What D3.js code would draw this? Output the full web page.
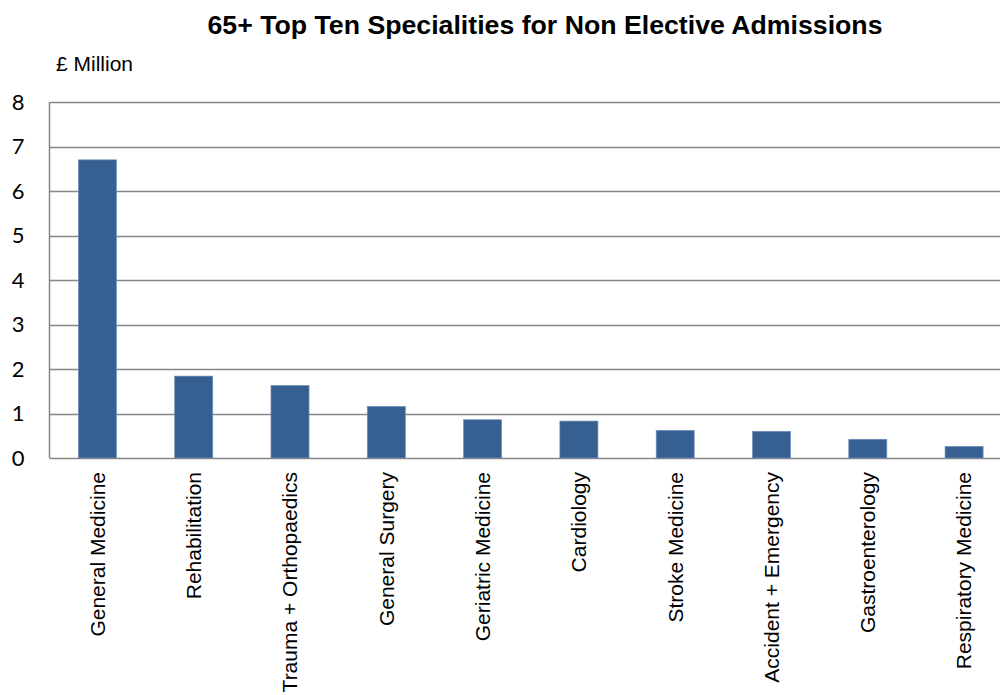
<!DOCTYPE html>
<html>
<head>
<meta charset="utf-8">
<script src="https://cdn.jsdelivr.net/npm/d3@7"></script>
<style>
  body { margin: 0; background: #fff; }
  svg { display: block; }
</style>
</head>
<body>
<svg id="chart" width="1000" height="695"></svg>
<script>
// Chart data
var categories = ["General Medicine", "Rehabilitation", "Trauma + Orthopaedics", "General Surgery",
    "Geriatric Medicine", "Cardiology", "Stroke Medicine", "Accident + Emergency",
    "Gastroenterology", "Respiratory Medicine"];
var values = [6.7, 1.84, 1.63, 1.16, 0.86, 0.83, 0.62, 0.6, 0.42, 0.26];
var yTicks = [0, 1, 2, 3, 4, 5, 6, 7, 8];
var title = "65+ Top Ten Specialities for Non Elective Admissions";
var unitLabel = "£ Million";

var svg = d3.select("#chart");

// Plot area (right side runs past the window edge, like the original)
var plotLeft = 49.5, plotTop = 102, plotBottom = 458, plotRight = 1012;

var x = d3.scaleBand()
    .domain(categories)
    .range([plotLeft, plotRight])
    .paddingInner(0.605)
    .paddingOuter(0.3);

var y = d3.scaleLinear()
    .domain([0, 8])
    .range([plotBottom, plotTop]);

// Gridlines
svg.append("g")
    .selectAll("line")
    .data(yTicks)
    .join("line")
    .attr("x1", plotLeft)
    .attr("x2", 1000)
    .attr("y1", d => Math.round(y(d)) + 0.5)
    .attr("y2", d => Math.round(y(d)) + 0.5)
    .attr("stroke", "#868686")
    .attr("stroke-width", 1.5);

// Left axis line
svg.append("line")
    .attr("x1", plotLeft).attr("x2", plotLeft)
    .attr("y1", plotTop).attr("y2", plotBottom)
    .attr("stroke", "#868686")
    .attr("stroke-width", 1.5);

// Bars
svg.append("g")
    .selectAll("rect")
    .data(values)
    .join("rect")
    .attr("x", (d, i) => x(categories[i]))
    .attr("y", d => y(d))
    .attr("width", x.bandwidth())
    .attr("height", d => plotBottom - y(d))
    .attr("fill", "#376092")
    .attr("stroke", "#6f8fb8")
    .attr("stroke-width", 0.7);

// Y tick labels
svg.append("g")
    .selectAll("text")
    .data(yTicks)
    .join("text")
    .attr("x", 24.5)
    .attr("y", d => y(d))
    .attr("dy", "0.36em")
    .attr("text-anchor", "end")
    .attr("font-family", "Lato, 'Open Sans', sans-serif")
    .attr("font-size", 22)
    .attr("fill", "#000")
    .text(d => d);

// Category labels, rotated
svg.append("g")
    .selectAll("text")
    .data(categories)
    .join("text")
    .attr("transform", d => "translate(" + (x(d) + x.bandwidth() / 2) + "," + 472 + ") rotate(-90)")
    .attr("dy", "0.35em")
    .attr("text-anchor", "end")
    .attr("font-family", "'Liberation Sans', Arial, sans-serif")
    .attr("font-size", 21)
    .attr("fill", "#000")
    .text(d => d);

// Title
svg.append("text")
    .attr("x", 545)
    .attr("y", 34)
    .attr("text-anchor", "middle")
    .attr("font-family", "'Liberation Sans', Arial, sans-serif")
    .attr("font-weight", "bold")
    .attr("font-size", 26.7)
    .text(title);

// Unit label
svg.append("text")
    .attr("x", 56)
    .attr("y", 70.5)
    .attr("font-family", "'Liberation Sans', Arial, sans-serif")
    .attr("font-size", 21)
    .text(unitLabel);
</script>
</body>
</html>
